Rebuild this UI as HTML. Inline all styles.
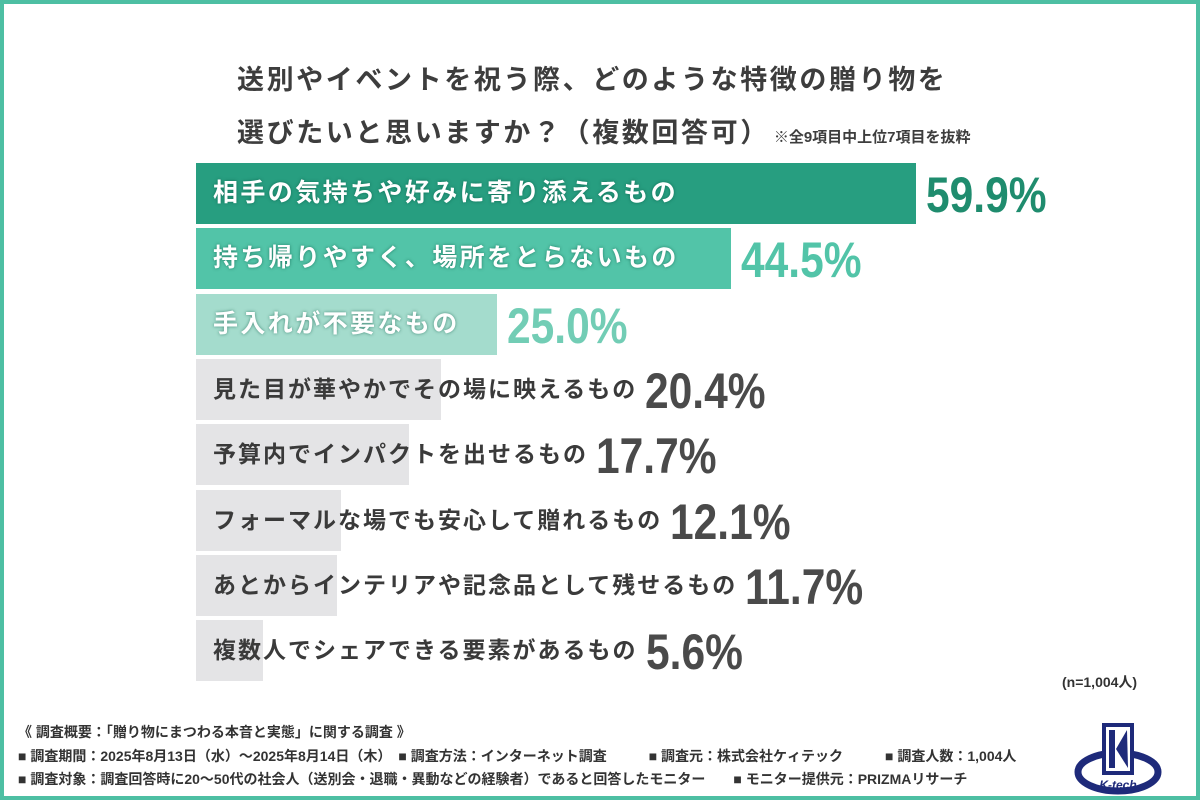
<!DOCTYPE html>
<html><head><meta charset="utf-8">
<style>
html,body{margin:0;padding:0;}
body{width:1200px;height:800px;position:relative;overflow:hidden;background:#fff;font-family:"Liberation Sans","Noto Sans CJK JP",sans-serif;}
.frame{position:absolute;left:0;top:0;width:1192px;height:792px;border:4px solid #4dbfa3;}
.title{position:absolute;left:237px;font-size:27px;font-weight:bold;color:#3d3d3d;white-space:nowrap;letter-spacing:2.6px;}
.note{font-size:15px;font-weight:bold;letter-spacing:0;margin-left:4px;}
#chart{position:absolute;left:0;top:0;width:1200px;height:800px;}
.bar{position:absolute;left:196px;height:61px;}
.lab{position:absolute;left:213px;font-weight:bold;white-space:nowrap;line-height:61px;}
.val{position:absolute;font-family:"Liberation Sans",sans-serif;font-weight:bold;font-size:50px;line-height:61px;white-space:nowrap;transform-origin:0 50%;transform:scaleX(0.85);}
.foot{position:absolute;left:18px;font-size:14px;color:#333;white-space:nowrap;font-weight:bold;}
</style></head><body>
<div class="frame"></div>
<div class="title" style="top:58px">送別やイベントを祝う際、どのような特徴の贈り物を</div>
<div class="title" style="top:111px">選びたいと思いますか？（複数回答可）<span class="note">※全9項目中上位7項目を抜粋</span></div>
<div id="chart"></div>
<div style="position:absolute;left:1062px;top:672px;font-size:14px;font-weight:bold;color:#333">(n=1,004人)</div>
<div class="foot" style="top:722px">《 調査概要：「贈り物にまつわる本音と実態」に関する調査 》</div>
<div class="foot" style="top:746px">■ 調査期間：2025年8月13日（水）～2025年8月14日（木）　■ 調査方法：インターネット調査　　　■ 調査元：株式会社ケィテック　　　■ 調査人数：1,004人</div>
<div class="foot" style="top:769px">■ 調査対象：調査回答時に20～50代の社会人（送別会・退職・異動などの経験者）であると回答したモニター　　■ モニター提供元：PRIZMAリサーチ</div>
<svg style="position:absolute;left:1072px;top:722px" width="92" height="74">
<ellipse cx="46" cy="50" rx="40" ry="19" fill="none" stroke="#1e2a7a" stroke-width="7"/>
<rect x="32" y="3" width="28" height="48" fill="#fff" stroke="#1e2a7a" stroke-width="4"/>
<rect x="37" y="8" width="6" height="38" fill="#1e2a7a"/>
<polygon points="44,27 55,8 56,46" fill="#1e2a7a"/>
<text x="46" y="67" text-anchor="middle" font-size="12" font-style="italic" font-weight="bold" fill="#1e2a7a" font-family="Liberation Sans">K-tech</text>
</svg>
<script>
const categories=["相手の気持ちや好みに寄り添えるもの","持ち帰りやすく、場所をとらないもの","手入れが不要なもの","見た目が華やかでその場に映えるもの","予算内でインパクトを出せるもの","フォーマルな場でも安心して贈れるもの","あとからインテリアや記念品として残せるもの","複数人でシェアできる要素があるもの"];
const values=[59.9,44.5,25.0,20.4,17.7,12.1,11.7,5.6];
const barColors=["#279e80","#52c4a8","#a4dccd","#e4e4e6","#e4e4e6","#e4e4e6","#e4e4e6","#e4e4e6"];
const valColors=["#1f8c6e","#52c4a8","#72cdb5","#4a4a4a","#4a4a4a","#4a4a4a","#4a4a4a","#4a4a4a"];
const x0=196,pxPer=720/59.9,top0=163,pitch=65.3;
const xs=v=>v*pxPer;
const chart=document.getElementById('chart');
categories.forEach((c,i)=>{
  const y=top0+i*pitch;
  const b=document.createElement('div');b.className='bar';
  
  
  b.style.top=y+'px';b.style.width=xs(values[i])+'px';b.style.background=barColors[i];
  chart.appendChild(b);
  const l=document.createElement('div');l.className='lab';
  
  
  l.style.top=y+'px';l.textContent=c;
  const white=i<3;
  l.style.fontSize=(white?25:23)+'px';
  l.style.letterSpacing=(white?2.4:2)+'px';
  l.style.color=white?'#fff':'#3a3a3a';
  if(white)l.style.textShadow='0 0 3px rgba(0,80,60,0.6)';
  chart.appendChild(l);
  const v=document.createElement('div');v.className='val';
  
  
  v.style.top=(y+2)+'px';v.style.color=valColors[i];
  v.textContent=values[i].toFixed(1)+'%';
  chart.appendChild(v);
  const end=Math.max(x0+xs(values[i]),213+l.offsetWidth-2);
  v.style.left=(end+10)+'px';
});
</script>
</body></html>
